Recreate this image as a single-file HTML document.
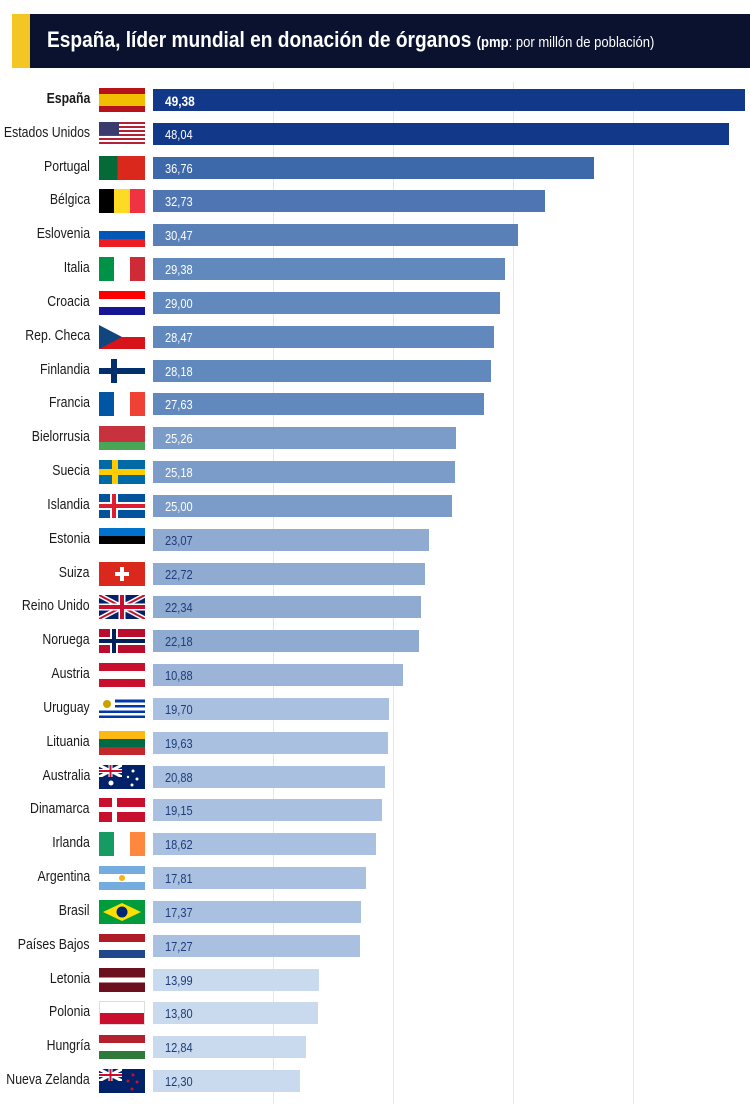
<!DOCTYPE html>
<html><head><meta charset="utf-8"><style>
*{margin:0;padding:0;box-sizing:border-box}
body{width:750px;height:1104px;background:#fff;position:relative;overflow:hidden;font-family:"Liberation Sans",sans-serif}
.hd{position:absolute;left:12px;top:14px;width:738px;height:54px;background:#0a1230}
.yl{position:absolute;left:12px;top:14px;width:18px;height:54px;background:#f3c623}
.tt{position:absolute;left:47px;top:27px;color:#fff;font-size:22px;font-weight:bold;transform:scaleX(.87);transform-origin:left;white-space:nowrap}
.tt span{font-size:15px;font-weight:normal}
.g{position:absolute;top:82px;height:1022px;width:1px;background:#e6e6e6}
.r{position:absolute;left:0;width:750px;height:34px}
.n{position:absolute;right:660px;top:7px;font-size:15px;color:#1a1a1a;white-space:nowrap;transform:scaleX(.82);transform-origin:right}
.f{position:absolute;left:99px;top:5px;width:46px;height:24px;overflow:hidden}
.b{position:absolute;left:153px;top:6px;height:22px}
.v{position:absolute;left:165px;top:10px;font-size:13px;color:#fff;transform:scaleX(.85);transform-origin:left}
.d .v{color:#1e3d7a}
</style></head><body>
<div class="hd"></div><div class="yl"></div>
<div class="tt">España, líder mundial en donación de órganos <span><b>(pmp</b>: por millón de población)</span></div>
<div class="g" style="left:273px"></div><div class="g" style="left:393px"></div><div class="g" style="left:513px"></div><div class="g" style="left:633px"></div>

<div class="r" style="top:83px"><div class="n" style="font-weight:bold">España</div><div class="f" style="background:linear-gradient(#b5121b 25%,#f1bf00 25% 75%,#b5121b 75%)"></div><div class="b" style="width:592px;background:#12388a"></div><div class="v" style="font-weight:bold;font-size:14px">49,38</div></div>
<div class="r" style="top:117px"><div class="n">Estados Unidos</div><div class="f" style="background:repeating-linear-gradient(#b22234 0 2px,#fff 2px 4px)"><div style="width:20px;height:13px;background:#3c3b6e"></div></div><div class="b" style="width:576px;background:#12388a"></div><div class="v">48,04</div></div>
<div class="r" style="top:151px"><div class="n">Portugal</div><div class="f" style="background:linear-gradient(90deg,#046a38 40%,#da291c 40%)"></div><div class="b" style="width:441px;background:#3d68a9"></div><div class="v">36,76</div></div>
<div class="r" style="top:184px"><div class="n">Bélgica</div><div class="f" style="background:linear-gradient(90deg,#000 33%,#fdda24 33% 67%,#ef3340 67%)"></div><div class="b" style="width:392px;background:#4f76b2"></div><div class="v">32,73</div></div>
<div class="r" style="top:218px"><div class="n">Eslovenia</div><div class="f" style="background:linear-gradient(#fff 33%,#0057b8 33% 67%,#ed1c24 67%)"></div><div class="b" style="width:365px;background:#5a80b8"></div><div class="v">30,47</div></div>
<div class="r" style="top:252px"><div class="n">Italia</div><div class="f" style="background:linear-gradient(90deg,#009246 33%,#fff 33% 67%,#ce2b37 67%)"></div><div class="b" style="width:352px;background:#6189be"></div><div class="v">29,38</div></div>
<div class="r" style="top:286px"><div class="n">Croacia</div><div class="f" style="background:linear-gradient(#ff0000 33%,#fff 33% 67%,#171796 67%)"></div><div class="b" style="width:347px;background:#6189be"></div><div class="v">29,00</div></div>
<div class="r" style="top:320px"><div class="n">Rep. Checa</div><div class="f" style="background:linear-gradient(#fff 50%,#d7141a 50%)"><svg width="46" height="24" style="position:absolute;left:0;top:0"><polygon points="0,0 23,12 0,24" fill="#11457e"/></svg></div><div class="b" style="width:341px;background:#6189be"></div><div class="v">28,47</div></div>
<div class="r" style="top:354px"><div class="n">Finlandia</div><div class="f" style="background:#fff"><div style="position:absolute;left:12px;top:0;width:6px;height:24px;background:#002f6c"></div><div style="position:absolute;left:0;top:9px;width:46px;height:6px;background:#002f6c"></div></div><div class="b" style="width:338px;background:#6189be"></div><div class="v">28,18</div></div>
<div class="r" style="top:387px"><div class="n">Francia</div><div class="f" style="background:linear-gradient(90deg,#0055a4 33%,#fff 33% 67%,#ef4135 67%)"></div><div class="b" style="width:331px;background:#6189be"></div><div class="v">27,63</div></div>
<div class="r" style="top:421px"><div class="n">Bielorrusia</div><div class="f" style="background:linear-gradient(#c8313e 66%,#4aa657 66%)"></div><div class="b" style="width:303px;background:#7b9bc9"></div><div class="v">25,26</div></div>
<div class="r" style="top:455px"><div class="n">Suecia</div><div class="f" style="background:#006aa7"><div style="position:absolute;left:13px;top:0;width:6px;height:24px;background:#fecc00"></div><div style="position:absolute;left:0;top:9px;width:46px;height:6px;background:#fecc00"></div></div><div class="b" style="width:302px;background:#7b9bc9"></div><div class="v">25,18</div></div>
<div class="r" style="top:489px"><div class="n">Islandia</div><div class="f" style="background:#02529c"><div style="position:absolute;left:11px;top:0;width:8px;height:24px;background:#fff"></div><div style="position:absolute;left:0;top:8px;width:46px;height:8px;background:#fff"></div><div style="position:absolute;left:13px;top:0;width:4px;height:24px;background:#dc1e35"></div><div style="position:absolute;left:0;top:10px;width:46px;height:4px;background:#dc1e35"></div></div><div class="b" style="width:299px;background:#7b9bc9"></div><div class="v">25,00</div></div>
<div class="r d" style="top:523px"><div class="n">Estonia</div><div class="f" style="background:linear-gradient(#0072ce 33%,#000 33% 67%,#fff 67%)"></div><div class="b" style="width:276px;background:#8fabd2"></div><div class="v">23,07</div></div>
<div class="r d" style="top:557px"><div class="n">Suiza</div><div class="f" style="background:#da291c"><div style="position:absolute;left:21px;top:5px;width:4px;height:14px;background:#fff"></div><div style="position:absolute;left:16px;top:10px;width:14px;height:4px;background:#fff"></div></div><div class="b" style="width:272px;background:#8fabd2"></div><div class="v">22,72</div></div>
<div class="r d" style="top:590px"><div class="n">Reino Unido</div><div class="f" style="background:#012169"><svg width="46" height="24" style="position:absolute"><path d="M0 0L46 24M46 0L0 24" stroke="#fff" stroke-width="5"/><path d="M0 0L46 24M46 0L0 24" stroke="#c8102e" stroke-width="2"/><path d="M23 0V24M0 12H46" stroke="#fff" stroke-width="7"/><path d="M23 0V24M0 12H46" stroke="#c8102e" stroke-width="4"/></svg></div><div class="b" style="width:268px;background:#8fabd2"></div><div class="v">22,34</div></div>
<div class="r d" style="top:624px"><div class="n">Noruega</div><div class="f" style="background:#ba0c2f"><div style="position:absolute;left:11px;top:0;width:8px;height:24px;background:#fff"></div><div style="position:absolute;left:0;top:8px;width:46px;height:8px;background:#fff"></div><div style="position:absolute;left:13px;top:0;width:4px;height:24px;background:#00205b"></div><div style="position:absolute;left:0;top:10px;width:46px;height:4px;background:#00205b"></div></div><div class="b" style="width:266px;background:#8fabd2"></div><div class="v">22,18</div></div>
<div class="r d" style="top:658px"><div class="n">Austria</div><div class="f" style="background:linear-gradient(#c8102e 33%,#fff 33% 67%,#c8102e 67%)"></div><div class="b" style="width:250px;background:#9bb4d8"></div><div class="v">10,88</div></div>
<div class="r d" style="top:692px"><div class="n">Uruguay</div><div class="f" style="background:repeating-linear-gradient(#fff 0 2.7px,#0038a8 2.7px 5.3px)"><div style="position:absolute;left:0;top:0;width:16px;height:13px;background:#fff"></div><div style="position:absolute;left:4px;top:3px;width:8px;height:8px;border-radius:50%;background:#c8a200"></div></div><div class="b" style="width:236px;background:#a9c0e0"></div><div class="v">19,70</div></div>
<div class="r d" style="top:726px"><div class="n">Lituania</div><div class="f" style="background:linear-gradient(#fdb913 33%,#006a44 33% 67%,#c1272d 67%)"></div><div class="b" style="width:235px;background:#a9c0e0"></div><div class="v">19,63</div></div>
<div class="r d" style="top:760px"><div class="n">Australia</div><div class="f" style="background:#012169"><svg width="23" height="12" style="position:absolute"><path d="M0 0L23 12M23 0L0 12" stroke="#fff" stroke-width="3"/><path d="M11.5 0V12M0 6H23" stroke="#fff" stroke-width="4"/><path d="M11.5 0V12M0 6H23" stroke="#c8102e" stroke-width="2"/></svg><svg width="46" height="24" style="position:absolute"><circle cx="12" cy="18" r="2.5" fill="#fff"/><circle cx="34" cy="6" r="1.5" fill="#fff"/><circle cx="38" cy="14" r="1.5" fill="#fff"/><circle cx="33" cy="20" r="1.5" fill="#fff"/><circle cx="29" cy="12" r="1.2" fill="#fff"/></svg></div><div class="b" style="width:232px;background:#a9c0e0"></div><div class="v">20,88</div></div>
<div class="r d" style="top:793px"><div class="n">Dinamarca</div><div class="f" style="background:#c8102e"><div style="position:absolute;left:13px;top:0;width:5px;height:24px;background:#fff"></div><div style="position:absolute;left:0;top:9px;width:46px;height:5px;background:#fff"></div></div><div class="b" style="width:229px;background:#a9c0e0"></div><div class="v">19,15</div></div>
<div class="r d" style="top:827px"><div class="n">Irlanda</div><div class="f" style="background:linear-gradient(90deg,#169b62 33%,#fff 33% 67%,#ff883e 67%)"></div><div class="b" style="width:223px;background:#a9c0e0"></div><div class="v">18,62</div></div>
<div class="r d" style="top:861px"><div class="n">Argentina</div><div class="f" style="background:linear-gradient(#74acdf 33%,#fff 33% 67%,#74acdf 67%)"><div style="position:absolute;left:20px;top:9px;width:6px;height:6px;border-radius:50%;background:#f6b40e"></div></div><div class="b" style="width:213px;background:#a9c0e0"></div><div class="v">17,81</div></div>
<div class="r d" style="top:895px"><div class="n">Brasil</div><div class="f" style="background:#009c3b"><svg width="46" height="24" style="position:absolute"><polygon points="23,3 42,12 23,21 4,12" fill="#fedf00"/><circle cx="23" cy="12" r="5.5" fill="#002776"/></svg></div><div class="b" style="width:208px;background:#a9c0e0"></div><div class="v">17,37</div></div>
<div class="r d" style="top:929px"><div class="n">Países Bajos</div><div class="f" style="background:linear-gradient(#ae1c28 33%,#fff 33% 67%,#21468b 67%)"></div><div class="b" style="width:207px;background:#a9c0e0"></div><div class="v">17,27</div></div>
<div class="r d" style="top:963px"><div class="n">Letonia</div><div class="f" style="background:linear-gradient(#6c0f1e 40%,#fff 40% 60%,#6c0f1e 60%)"></div><div class="b" style="width:166px;background:#c9d9ee"></div><div class="v">13,99</div></div>
<div class="r d" style="top:996px"><div class="n">Polonia</div><div class="f" style="background:linear-gradient(#fff 50%,#c8102e 50%);border:1px solid #ddd"></div><div class="b" style="width:165px;background:#c9d9ee"></div><div class="v">13,80</div></div>
<div class="r d" style="top:1030px"><div class="n">Hungría</div><div class="f" style="background:linear-gradient(#b5202e 33%,#fff 33% 67%,#2f7a3a 67%)"></div><div class="b" style="width:153px;background:#c9d9ee"></div><div class="v">12,84</div></div>
<div class="r d" style="top:1064px"><div class="n">Nueva Zelanda</div><div class="f" style="background:#012169"><svg width="23" height="12" style="position:absolute"><path d="M0 0L23 12M23 0L0 12" stroke="#fff" stroke-width="3"/><path d="M11.5 0V12M0 6H23" stroke="#fff" stroke-width="4"/><path d="M11.5 0V12M0 6H23" stroke="#c8102e" stroke-width="2"/></svg><svg width="46" height="24" style="position:absolute"><circle cx="34" cy="6" r="1.5" fill="#c8102e"/><circle cx="38" cy="13" r="1.5" fill="#c8102e"/><circle cx="33" cy="20" r="1.5" fill="#c8102e"/><circle cx="29" cy="12" r="1.5" fill="#c8102e"/></svg></div><div class="b" style="width:147px;background:#c9d9ee"></div><div class="v">12,30</div></div>
</body></html>
